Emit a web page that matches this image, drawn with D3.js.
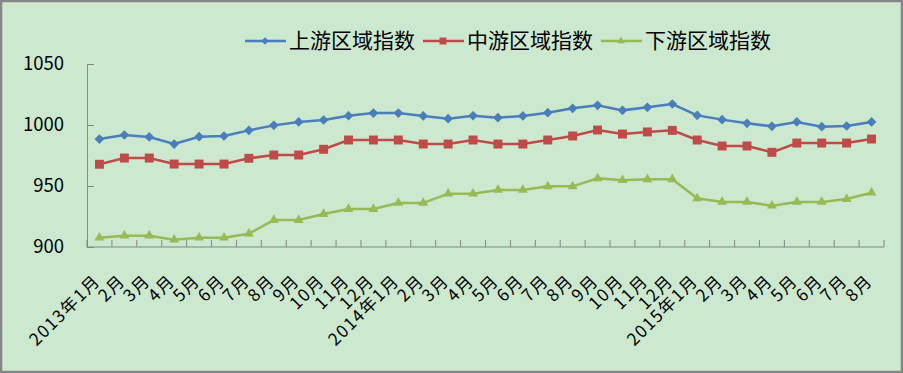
<!DOCTYPE html>
<html>
<head>
<meta charset="utf-8">
<script src="https://cdn.jsdelivr.net/npm/d3@7/dist/d3.min.js"></script>
<style>
  body { margin: 0; background: #fff; }
  svg text { font-family: "Noto Sans CJK SC", "Liberation Sans", sans-serif; }
</style>
</head>
<body>
<div id="wrapper"></div>
<script>
// categories
const months = [
  "2013年1月","2月","3月","4月","5月","6月","7月","8月","9月","10月","11月","12月",
  "2014年1月","2月","3月","4月","5月","6月","7月","8月","9月","10月","11月","12月",
  "2015年1月","2月","3月","4月","5月","6月","7月","8月"
]
// series values
const upstream = [988.5, 991.8, 990.2, 984.4, 990.4, 991.0, 995.6, 999.7, 1002.5, 1004.1, 1007.6, 1009.8,
  1009.8, 1007.4, 1005.2, 1007.6, 1006.0, 1007.4, 1010.1, 1013.7, 1016.1, 1012.0, 1014.5, 1017.2,
  1007.9, 1004.4, 1001.4, 998.9, 1002.5, 998.6, 999.2, 1002.5]
const midstream = [967.8, 972.9, 972.9, 968.0, 968.0, 968.0, 972.7, 975.4, 975.4, 980.1, 987.7, 987.7,
  987.7, 984.4, 984.4, 987.7, 984.4, 984.4, 987.7, 991.0, 995.9, 992.6, 994.3, 995.6,
  987.7, 982.8, 982.8, 977.6, 985.2, 985.2, 985.2, 988.5]
const downstream = [907.6, 909.3, 909.3, 906.0, 907.6, 907.6, 910.9, 922.1, 922.1, 927.0, 931.1, 931.1,
  936.1, 936.1, 943.7, 943.7, 946.7, 946.7, 949.7, 949.7, 956.3, 954.7, 955.5, 955.5,
  939.9, 936.9, 936.9, 933.9, 936.9, 936.9, 939.3, 944.5]
const seriesNames = ["上游区域指数", "中游区域指数", "下游区域指数"]
const yTicks = [900, 950, 1000, 1050]

const colors = ["#4a7ebb", "#be4b48", "#98b954"]
const symbols = [d3.symbolDiamond2, d3.symbolSquare, d3.symbolTriangle]
const symbolSizes = [60, 80, 42]

const dimensions = {
  width: 903,
  height: 373,
  margins: { top: 64, right: 19, bottom: 126, left: 87 }
}
dimensions.boundedWidth = dimensions.width - dimensions.margins.left - dimensions.margins.right
dimensions.boundedHeight = dimensions.height - dimensions.margins.top - dimensions.margins.bottom

const svg = d3.select("#wrapper").append("svg")
  .attr("width", dimensions.width)
  .attr("height", dimensions.height)

svg.append("rect")
  .attr("x", 1).attr("y", 1)
  .attr("width", dimensions.width - 2).attr("height", dimensions.height - 2)
  .attr("fill", "#cce8cf")
  .attr("stroke", "#858585")
  .attr("stroke-width", 2.5)

const bounds = svg.append("g")
  .attr("transform", `translate(${dimensions.margins.left},${dimensions.margins.top})`)

const xScale = d3.scaleBand()
  .domain(d3.range(months.length))
  .range([0, dimensions.boundedWidth])
const xCenter = i => xScale(i) + xScale.bandwidth() / 2

const yScale = d3.scaleLinear()
  .domain([900, 1050])
  .range([dimensions.boundedHeight, 0])

// y axis
const yAxis = bounds.append("g")
  .call(d3.axisLeft(yScale)
    .tickValues(yTicks)
    .tickFormat(d3.format("d"))
    .tickSize(-7).tickPadding(23).tickSizeOuter(0))
yAxis.select(".domain").attr("stroke", "#868686")
yAxis.selectAll(".tick line").attr("stroke", "#868686")
yAxis.selectAll(".tick text")
  .attr("font-family", "'Liberation Sans', sans-serif")
  .attr("font-size", 18.5)
  .attr("fill", "#000")

// x axis
const xAxis = bounds.append("g")
  .attr("transform", `translate(0,${dimensions.boundedHeight})`)
xAxis.append("line")
  .attr("x1", 0).attr("x2", dimensions.boundedWidth)
  .attr("stroke", "#868686")
xAxis.selectAll(".xtick")
  .data(d3.range(months.length + 1))
  .join("line")
  .attr("class", "xtick")
  .attr("x1", i => i < months.length ? xScale(i) : dimensions.boundedWidth)
  .attr("x2", i => i < months.length ? xScale(i) : dimensions.boundedWidth)
  .attr("y1", 0).attr("y2", -7)
  .attr("stroke", "#868686")
xAxis.selectAll(".xlabel")
  .data(months)
  .join("text")
  .attr("class", "xlabel")
  .attr("text-anchor", "end")
  .attr("font-size", 17)
  .attr("letter-spacing", 1.5)
  .attr("fill", "#000")
  .attr("transform", (d, i) => `translate(${xCenter(i) + 2},${35}) rotate(-45)`)
  .text(d => d)

// lines + markers
const allSeries = [upstream, midstream, downstream]
const lineGenerator = d3.line()
  .x((d, i) => xCenter(i))
  .y(d => yScale(d))

allSeries.forEach((values, s) => {
  bounds.append("path")
    .attr("d", lineGenerator(values))
    .attr("fill", "none")
    .attr("stroke", colors[s])
    .attr("stroke-width", 2.5)
  bounds.selectAll(".m" + s)
    .data(values)
    .join("path")
    .attr("class", "m" + s)
    .attr("d", d3.symbol(symbols[s], symbolSizes[s]))
    .attr("transform", (d, i) => `translate(${xCenter(i)},${yScale(d)})`)
    .attr("fill", colors[s])
})

// legend
const legend = svg.append("g")
let lx = 245
const ly = 41
seriesNames.forEach((name, s) => {
  legend.append("line")
    .attr("x1", lx).attr("x2", lx + 41)
    .attr("y1", ly).attr("y2", ly)
    .attr("stroke", colors[s]).attr("stroke-width", 2.5)
  legend.append("path")
    .attr("d", d3.symbol(symbols[s], symbolSizes[s] * 0.6))
    .attr("transform", `translate(${lx + 20},${ly})`)
    .attr("fill", colors[s])
  const t = legend.append("text")
    .attr("x", lx + 44).attr("y", ly)
    .attr("dy", "0.35em")
    .attr("font-size", 21)
    .attr("fill", "#000")
    .text(name)
  lx += 44 + t.node().getComputedTextLength() + 8
})
</script>
</body>
</html>
